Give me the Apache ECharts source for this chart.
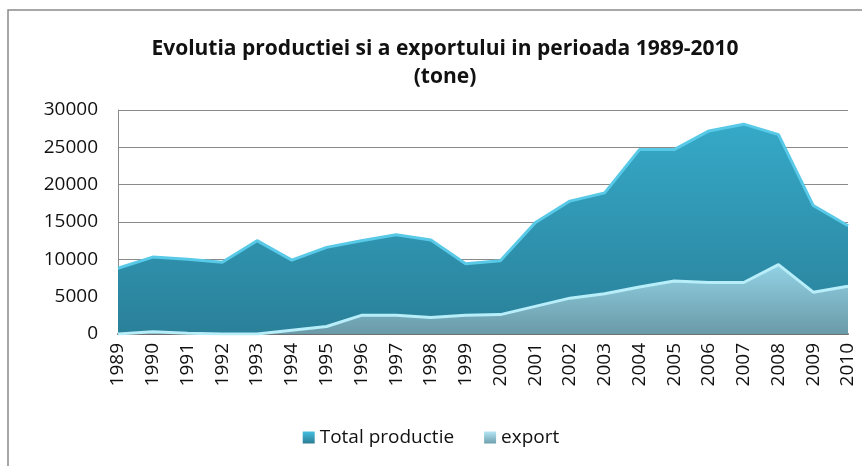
<!DOCTYPE html>
<html>
<head>
<meta charset="utf-8">
<script src="https://cdn.jsdelivr.net/npm/echarts@6/dist/echarts.min.js"></script>
<style>
  html, body { margin: 0; padding: 0; background: #fff; }
  #chart { width: 862px; height: 466px; }
</style>
</head>
<body>
<div id="chart"></div>
<script>
// ani si valori (tone)
const years = ['1989', '1990', '1991', '1992', '1993', '1994', '1995', '1996', '1997', '1998', '1999',
  '2000', '2001', '2002', '2003', '2004', '2005', '2006', '2007', '2008', '2009', '2010']
const totalProductie = [8800, 10300, 10000, 9600, 12500, 9900, 11600, 12500, 13300, 12600, 9400,
  9800, 14900, 17800, 18900, 24700, 24700, 27200, 28100, 26700, 17200, 14500]
const exportVal = [0, 300, 100, 0, 0, 500, 1000, 2500, 2500, 2200, 2500,
  2600, 3700, 4800, 5400, 6300, 7100, 6900, 6900, 9300, 5600, 6400]
const yTicks = [0, 5000, 10000, 15000, 20000, 25000, 30000]

const chart = echarts.init(document.getElementById('chart'))

const grad = (top, bottom) => new echarts.graphic.LinearGradient(0, 0, 0, 1, [
  { offset: 0, color: top },
  { offset: 1, color: bottom }
])

const option = {
  animation: false,
  backgroundColor: '#fff',
  textStyle: { fontFamily: 'Open Sans' },
  graphic: [
    {
      type: 'rect',
      shape: { x: 8, y: 10, width: 900, height: 500 },
      style: { fill: 'none', stroke: '#8a8a8a', lineWidth: 1.5 },
      silent: true
    }
  ],
  title: {
    text: 'Evolutia productiei si a exportului in perioada 1989-2010\n(tone)',
    left: 440,
    top: 30,
    textAlign: 'center',
    textStyle: {
      fontFamily: 'Open Sans',
      fontWeight: 'bold',
      fontSize: 21,
      lineHeight: 28,
      color: '#111'
    }
  },
  legend: {
    bottom: 14,
    left: 'center',
    itemWidth: 12,
    itemHeight: 12,
    itemGap: 30,
    icon: 'rect',
    textStyle: { fontSize: 19, color: '#111', fontFamily: 'Open Sans' },
    data: ['Total productie', 'export']
  },
  grid: { left: 118, right: 14, top: 110, bottom: 132 },
  xAxis: {
    type: 'category',
    boundaryGap: false,
    data: years,
    axisLine: { lineStyle: { color: '#707070', width: 2 } },
    axisTick: { show: false },
    axisLabel: { rotate: 90, fontSize: 19, color: '#111', margin: 9 }
  },
  yAxis: {
    type: 'value',
    min: yTicks[0],
    max: yTicks[yTicks.length - 1],
    interval: 5000,
    axisLine: { show: true, lineStyle: { color: '#8a8a8a' } },
    axisTick: { show: false },
    axisLabel: { fontSize: 19, color: '#111', margin: 20, formatter: v => String(v) },
    splitLine: { lineStyle: { color: '#8a8a8a', width: 1.2 } }
  },
  series: [
    {
      name: 'Total productie',
      type: 'line',
      data: totalProductie,
      symbol: 'none',
      itemStyle: { color: grad('#45bfe0', '#2a7d95') },
      lineStyle: { color: '#58c9e7', width: 3 },
      areaStyle: { color: grad('#35a9c8', '#2a8099'), opacity: 1 }
    },
    {
      name: 'export',
      type: 'line',
      data: exportVal,
      symbol: 'none',
      itemStyle: { color: grad('#b4e6f4', '#6d9fae') },
      lineStyle: { color: '#b8eefa', width: 3 },
      areaStyle: { color: grad('#92d2e4', '#6a9aa8'), opacity: 1 }
    }
  ]
}

chart.setOption(option)
</script>
</body>
</html>
